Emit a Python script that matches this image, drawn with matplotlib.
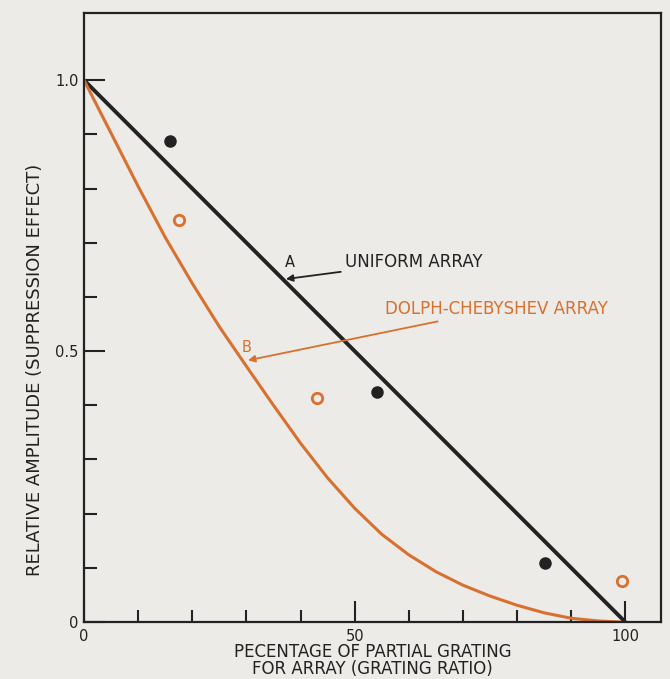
import matplotlib.pyplot as plt
import numpy as np

# uniform array (curve A)
uniform_x = [0, 100]
uniform_y = [1.0, 0.0]

# Dolph-Chebyshev array (curve B)
cheb_x = [0, 5, 10, 15, 20, 25, 30, 35, 40, 45, 50,
          55, 60, 65, 70, 75, 80, 85, 90, 95, 99]
cheb_y = [1.0, 0.902, 0.804, 0.710, 0.625, 0.545, 0.472, 0.400, 0.330, 0.266, 0.210,
          0.162, 0.124, 0.093, 0.068, 0.048, 0.031, 0.017, 0.007, 0.002, 0.0]

# measured points
meas_a_x = [15.9, 54.2, 85.2]
meas_a_y = [0.888, 0.424, 0.109]
meas_b_x = [17.6, 43.1, 99.4]
meas_b_y = [0.742, 0.413, 0.075]

x_major = [0, 50, 100]
x_minor = [10, 20, 30, 40, 60, 70, 80, 90]
y_major = [0, 0.5, 1.0]
y_major_labels = ['0', '0.5', '1.0']
y_minor = [0.1, 0.2, 0.3, 0.4, 0.6, 0.7, 0.8, 0.9]

paper = '#ecebe8'
ink = '#222222'
orange = '#d8702f'

fig = plt.figure(figsize=(6.70, 6.79), dpi=100, facecolor=paper)
ax = fig.add_axes([0.1254, 0.0839, 0.8612, 0.897], facecolor=paper)

ax.plot(uniform_x, uniform_y, color=ink, lw=2.8, solid_capstyle='butt')
ax.plot(cheb_x, cheb_y, color=orange, lw=2.2)
ax.plot(meas_a_x, meas_a_y, 'o', color=ink, ms=8)
ax.plot(meas_b_x, meas_b_y, 'o', mfc='none', mec=orange, mew=2, ms=7.5)

ax.set_xlim(0, 106.6)
ax.set_ylim(0, 1.124)

ax.set_xticks(x_major)
ax.set_xticklabels(['0', '50', '100'])
ax.set_xticks(x_minor, minor=True)
ax.set_yticks(y_major)
ax.set_yticklabels(y_major_labels)
ax.set_yticks(y_minor, minor=True)
ax.tick_params(which='major', direction='in', length=15, width=1.5, color=ink,
               labelsize=10.5, labelcolor=ink)
ax.tick_params(which='minor', direction='in', length=9, width=1.5, color=ink)
ax.tick_params(axis='x', pad=5)
ax.tick_params(axis='y', pad=4)
for s in ax.spines.values():
    s.set_linewidth(1.6)
    s.set_color(ink)

ax.set_xlabel('PECENTAGE OF PARTIAL GRATING\nFOR ARRAY (GRATING RATIO)',
              fontsize=12, color=ink, linespacing=0.95, labelpad=-1)
ax.set_ylabel('RELATIVE AMPLITUDE (SUPPRESSION EFFECT)',
              fontsize=13, color=ink)
ax.yaxis.set_label_coords(-0.069, 0.414)

# curve labels
ax.text(38.1, 0.664, 'A', fontsize=10.5, color=ink, ha='center', va='center')
ax.annotate('UNIFORM ARRAY', xy=(37.3, 0.633), xytext=(48.2, 0.664),
            fontsize=12, color=ink, ha='left', va='center',
            arrowprops=dict(arrowstyle='-|>', color=ink, lw=1.3,
                            shrinkA=1, shrinkB=0, mutation_scale=10))
ax.text(30.1, 0.507, 'B', fontsize=10.5, color=orange, ha='center', va='center')
ax.annotate('DOLPH-CHEBYSHEV ARRAY', xy=(30.3, 0.483), xytext=(55.6, 0.577),
            fontsize=12, color=orange, ha='left', va='center',
            arrowprops=dict(arrowstyle='-|>', color=orange, lw=1.3,
                            shrinkA=1, shrinkB=0, mutation_scale=10))

fig.savefig('out.png', dpi=100, facecolor=paper)
